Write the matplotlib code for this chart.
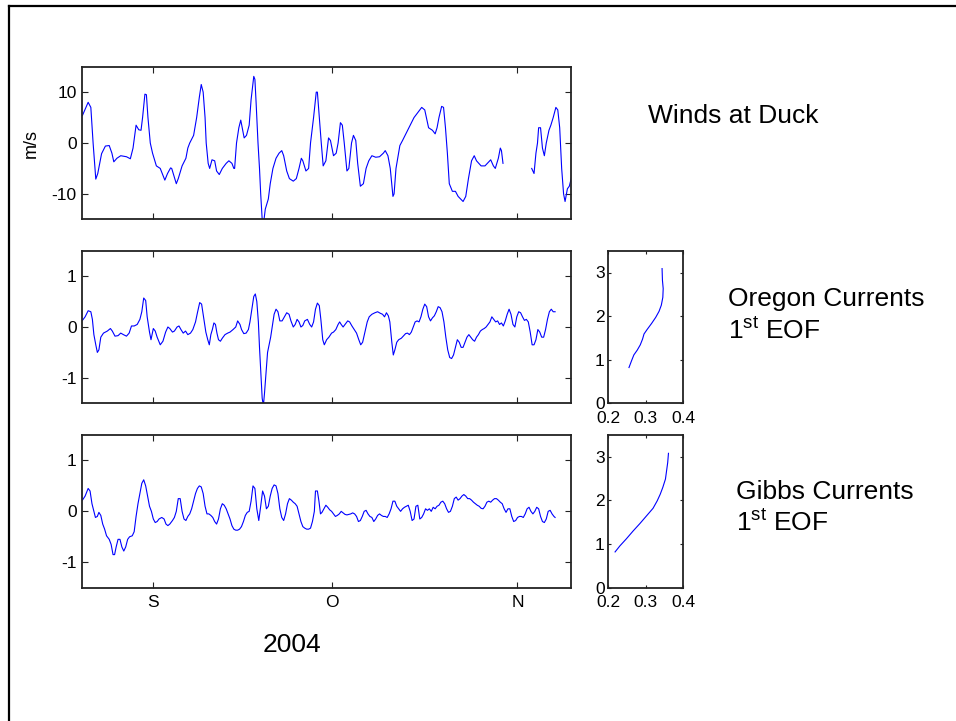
import numpy as np
import matplotlib
matplotlib.use("Agg")
import matplotlib.pyplot as plt
from matplotlib.lines import Line2D

plt.rcParams['font.family'] = ['Liberation Sans', 'DejaVu Sans']
plt.rcParams['mathtext.fontset'] = 'custom'
plt.rcParams['mathtext.rm'] = 'Liberation Sans'
plt.rcParams['axes.unicode_minus'] = False

# time axis: days since 1 Sep 2004
xlim_days = (-11.9, 69.9)
month_ticks = [0, 30, 61]
month_labels = ['S', 'O', 'N']

# wind at Duck (m/s); nan marks the data gap
wind = [
    (-11.88, 5.4), (-10.92, 8.0), (-10.47, 7.0), (-10.09, 0.0), (-9.64, -7.1), (-9.31, -6.0),
    (-8.67, -2.1), (-8.03, -0.6), (-7.39, -0.5), (-6.94, -2.0), (-6.62, -3.7), (-6.10, -3.0),
    (-5.46, -2.5), (-4.50, -2.7), (-3.85, -3.1), (-3.40, -1.0), (-2.89, 3.5), (-2.44, 2.6),
    (-2.06, 2.5), (-1.80, 5.0), (-1.41, 9.6), (-1.16, 9.5), (-0.90, 5.0), (-0.51, 0.0),
    (-0.13, -2.0), (0.51, -4.5), (1.16, -5.0), (1.93, -7.3), (2.38, -6.0), (2.89, -4.9),
    (3.08, -5.0), (3.85, -8.0), (4.18, -7.0), (4.82, -4.5), (5.46, -3.0), (5.78, -1.0),
    (6.10, 0.0), (6.75, 1.5), (7.26, 5.0), (7.71, 9.0), (8.03, 11.5), (8.35, 10.0),
    (8.67, 5.0), (8.86, 0.0), (9.19, -4.0), (9.44, -5.0), (9.83, -3.3), (10.28, -3.5),
    (10.60, -5.5), (11.05, -6.2), (11.56, -5.0), (12.21, -4.0), (12.66, -3.5), (13.17, -4.0),
    (13.49, -5.0), (13.62, -5.0), (13.94, 0.0), (14.33, 3.0), (14.65, 4.5), (14.90, 3.0),
    (15.22, 1.0), (15.61, 1.5), (16.06, 3.5), (16.38, 8.5), (16.83, 13.1), (17.02, 12.5),
    (17.22, 8.0), (17.54, 0.0), (17.79, -5.0), (17.99, -10.0), (18.24, -15.0), (18.50, -15.5),
    (18.76, -13.0), (19.27, -11.0), (19.59, -8.0), (20.04, -5.0), (20.56, -3.0), (21.07, -2.0),
    (21.52, -1.5), (21.84, -2.5), (22.35, -5.5), (22.80, -7.0), (23.45, -7.5), (23.96, -7.0),
    (24.41, -5.0), (24.80, -3.0), (25.05, -3.5), (25.57, -5.5), (26.02, -5.0), (26.34, 0.0),
    (26.85, 5.0), (27.30, 10.0), (27.49, 10.0), (27.75, 6.0), (28.14, 0.0), (28.46, -4.5),
    (28.91, -3.5), (29.36, 1.0), (29.68, 0.5), (30.19, -2.5), (30.64, -2.0), (30.96, 0.0),
    (31.35, 4.0), (31.67, 3.5), (31.99, 0.0), (32.44, -5.5), (32.76, -5.0), (33.21, 0.0),
    (33.53, 1.5), (33.92, 0.5), (34.24, -4.0), (34.69, -8.5), (35.20, -8.0), (35.65, -5.0),
    (36.10, -3.5), (36.62, -2.5), (37.26, -2.8), (37.90, -2.7), (38.54, -2.0), (38.86, -1.5),
    (39.31, -2.5), (39.70, -5.0), (40.15, -10.5), (40.34, -10.0), (40.66, -5.0), (41.31, -0.5),
    (41.76, 0.5), (42.40, 2.0), (43.04, 3.5), (43.68, 5.0), (44.32, 6.0), (44.97, 7.0),
    (45.48, 6.5), (46.12, 3.0), (46.77, 2.5), (47.22, 1.8), (47.54, 3.0), (47.86, 5.0),
    (48.31, 7.2), (48.63, 7.0), (48.95, 3.0), (49.27, -2.0), (49.59, -8.0), (50.11, -9.5),
    (50.62, -9.5), (51.07, -10.5), (51.90, -11.5), (52.35, -10.5), (52.80, -7.0), (53.32, -3.5),
    (53.77, -2.5), (54.15, -3.5), (54.92, -4.5), (55.57, -4.5), (56.21, -3.7), (56.53, -3.3),
    (56.98, -4.5), (57.30, -5.0), (57.81, -3.0), (58.14, -1.0), (58.33, -1.5), (58.59, -4.0),
    (np.nan, np.nan),
    (63.40, -5.0), (63.79, -6.0), (64.11, -2.0), (64.37, 0.0), (64.56, 3.0), (64.88, 3.0),
    (65.20, -1.0), (65.52, -2.5), (65.84, 0.0), (66.29, 2.5), (66.61, 3.5), (67.00, 5.0),
    (67.45, 7.0), (67.77, 6.5), (68.09, 3.0), (68.42, -5.0), (68.74, -10.0), (68.99, -11.5),
    (69.38, -9.0), (69.70, -8.5), (70.02, -7.0), (70.21, -6.0),
]

# Oregon currents, 1st EOF amplitude
oregon = [
    (-11.88, 0.13), (-11.43, 0.20), (-10.92, 0.32), (-10.47, 0.30), (-10.21, 0.15), (-9.96, -0.15),
    (-9.64, -0.35), (-9.38, -0.50), (-9.12, -0.45), (-8.80, -0.20), (-8.35, -0.12), (-7.71, -0.08),
    (-7.19, -0.03), (-6.87, -0.08), (-6.42, -0.18), (-5.91, -0.17), (-5.46, -0.12), (-5.01, -0.15),
    (-4.50, -0.18), (-4.05, -0.12), (-3.66, 0.02), (-3.21, 0.02), (-2.70, 0.05), (-2.25, 0.15),
    (-1.93, 0.30), (-1.61, 0.57), (-1.28, 0.52), (-1.03, 0.20), (-0.64, -0.10), (-0.39, -0.25),
    (0.00, -0.03), (0.32, -0.08), (0.64, -0.20), (1.16, -0.35), (1.61, -0.28), (2.06, -0.10),
    (2.44, 0.00), (2.76, -0.03), (3.21, -0.10), (3.53, -0.08), (3.98, 0.00), (4.30, 0.02),
    (4.63, -0.05), (5.01, -0.12), (5.40, -0.08), (5.78, -0.15), (6.23, -0.12), (6.62, -0.05),
    (7.07, 0.10), (7.39, 0.28), (7.77, 0.48), (8.09, 0.45), (8.42, 0.20), (8.80, -0.10),
    (9.12, -0.25), (9.38, -0.35), (9.64, -0.15), (9.89, -0.05), (10.15, 0.08), (10.41, 0.05),
    (10.66, -0.12), (10.92, -0.25), (11.24, -0.28), (11.56, -0.22), (12.01, -0.15), (12.46, -0.12),
    (12.85, -0.10), (13.36, -0.05), (13.81, 0.00), (14.13, 0.12), (14.52, 0.05), (14.78, -0.05),
    (15.16, -0.13), (15.55, -0.12), (15.93, -0.05), (16.19, 0.10), (16.51, 0.35), (16.83, 0.60),
    (17.09, 0.65), (17.34, 0.50), (17.60, 0.10), (17.79, -0.40), (18.05, -1.00), (18.24, -1.40),
    (18.44, -1.55), (18.63, -1.30), (18.89, -0.90), (19.14, -0.50), (19.40, -0.35), (19.66, -0.20),
    (19.91, 0.00), (20.24, 0.25), (20.56, 0.35), (20.88, 0.30), (21.20, 0.12), (21.58, 0.12),
    (21.97, 0.20), (22.35, 0.28), (22.74, 0.25), (23.06, 0.12), (23.45, 0.00), (23.77, 0.05),
    (24.09, 0.15), (24.41, 0.10), (24.73, 0.00), (25.05, 0.03), (25.37, 0.12), (25.82, 0.15),
    (26.21, 0.05), (26.53, 0.00), (26.85, 0.10), (27.17, 0.35), (27.49, 0.47), (27.81, 0.42),
    (28.07, 0.15), (28.39, -0.25), (28.65, -0.35), (29.04, -0.25), (29.42, -0.20), (29.87, -0.12),
    (30.19, -0.10), (30.58, -0.05), (30.96, 0.05), (31.22, 0.10), (31.48, 0.05), (31.80, 0.00),
    (32.12, 0.05), (32.57, 0.12), (32.89, 0.10), (33.28, 0.02), (33.66, -0.05), (34.05, -0.12),
    (34.43, -0.25), (34.75, -0.35), (35.07, -0.30), (35.46, -0.10), (35.84, 0.10), (36.17, 0.20),
    (36.62, 0.25), (37.13, 0.28), (37.58, 0.30), (38.03, 0.27), (38.41, 0.25), (38.74, 0.20),
    (39.06, 0.28), (39.38, 0.22), (39.63, 0.10), (39.96, -0.30), (40.21, -0.55), (40.47, -0.45),
    (40.79, -0.30), (41.11, -0.25), (41.56, -0.22), (41.88, -0.18), (42.27, -0.13), (42.59, -0.12),
    (42.91, -0.15), (43.23, -0.10), (43.55, 0.00), (43.87, 0.10), (44.20, 0.12), (44.52, 0.10),
    (44.84, 0.20), (45.16, 0.35), (45.48, 0.45), (45.80, 0.40), (46.12, 0.20), (46.44, 0.12),
    (46.77, 0.18), (47.09, 0.22), (47.41, 0.30), (47.73, 0.40), (48.05, 0.38), (48.37, 0.30),
    (48.69, 0.10), (49.01, -0.20), (49.33, -0.45), (49.66, -0.60), (49.98, -0.62), (50.30, -0.55),
    (50.62, -0.40), (50.94, -0.25), (51.26, -0.30), (51.58, -0.40), (51.90, -0.40), (52.23, -0.30),
    (52.55, -0.20), (52.87, -0.15), (53.19, -0.20), (53.51, -0.25), (53.83, -0.28), (54.15, -0.20),
    (54.47, -0.15), (54.80, -0.08), (55.12, -0.05), (55.44, -0.03), (55.76, 0.00), (56.08, 0.05),
    (56.40, 0.10), (56.72, 0.20), (57.04, 0.15), (57.36, 0.10), (57.69, 0.12), (58.01, 0.05),
    (58.33, 0.08), (58.65, 0.02), (58.97, 0.12), (59.29, 0.25), (59.61, 0.35), (59.93, 0.25),
    (60.26, 0.05), (60.58, 0.00), (60.90, 0.20), (61.22, 0.30), (61.54, 0.28), (61.86, 0.20),
    (62.18, 0.13), (62.50, 0.15), (62.83, 0.10), (63.15, -0.10), (63.47, -0.35), (63.79, -0.35),
    (64.11, -0.25), (64.43, -0.05), (64.75, -0.10), (65.07, -0.20), (65.40, -0.20), (65.72, -0.05),
    (66.04, 0.15), (66.36, 0.30), (66.68, 0.35), (67.00, 0.30), (67.32, 0.30),
]

# Gibbs currents, 1st EOF amplitude
gibbs = [
    (-11.88, 0.22), (-11.43, 0.30), (-10.92, 0.45), (-10.60, 0.40), (-10.28, 0.15), (-9.96, 0.00),
    (-9.70, -0.12), (-9.38, -0.10), (-9.12, -0.02), (-8.80, -0.08), (-8.48, -0.25), (-8.16, -0.35),
    (-7.84, -0.48), (-7.39, -0.55), (-7.07, -0.65), (-6.75, -0.85), (-6.49, -0.85), (-6.23, -0.70),
    (-5.91, -0.55), (-5.59, -0.55), (-5.27, -0.70), (-4.95, -0.78), (-4.63, -0.70), (-4.30, -0.55),
    (-3.98, -0.50), (-3.53, -0.48), (-3.21, -0.40), (-2.89, -0.10), (-2.57, 0.15), (-2.25, 0.35),
    (-1.93, 0.55), (-1.61, 0.62), (-1.28, 0.50), (-0.96, 0.30), (-0.64, 0.10), (-0.32, 0.00),
    (0.00, -0.15), (0.32, -0.22), (0.64, -0.20), (0.96, -0.15), (1.41, -0.12), (1.80, -0.15),
    (2.12, -0.25), (2.44, -0.28), (2.76, -0.25), (3.21, -0.18), (3.53, -0.12), (3.85, 0.00),
    (4.18, 0.25), (4.50, 0.25), (4.82, 0.00), (5.14, -0.15), (5.46, -0.18), (5.78, -0.10),
    (6.10, -0.05), (6.42, 0.05), (6.74, 0.20), (7.07, 0.35), (7.39, 0.45), (7.71, 0.50),
    (8.03, 0.48), (8.35, 0.35), (8.67, 0.10), (8.99, -0.05), (9.31, -0.05), (9.64, -0.08),
    (9.96, -0.12), (10.28, -0.20), (10.60, -0.25), (10.92, -0.15), (11.24, 0.05), (11.56, 0.15),
    (11.88, 0.12), (12.21, 0.05), (12.53, -0.05), (12.85, -0.15), (13.17, -0.28), (13.49, -0.35),
    (13.81, -0.37), (14.13, -0.37), (14.45, -0.35), (14.77, -0.30), (15.10, -0.20), (15.42, -0.08),
    (15.74, -0.02), (16.06, 0.00), (16.38, 0.20), (16.70, 0.50), (17.02, 0.45), (17.34, 0.05),
    (17.67, -0.18), (17.99, 0.10), (18.31, 0.40), (18.63, 0.30), (18.95, 0.05), (19.27, 0.10),
    (19.59, 0.30), (19.91, 0.45), (20.24, 0.52), (20.56, 0.50), (20.88, 0.35), (21.20, 0.05),
    (21.52, -0.12), (21.84, -0.18), (22.16, -0.05), (22.48, 0.15), (22.80, 0.25), (23.13, 0.22),
    (23.45, 0.18), (23.77, 0.15), (24.09, 0.10), (24.41, -0.05), (24.73, -0.20), (25.05, -0.30),
    (25.37, -0.33), (25.70, -0.35), (26.02, -0.35), (26.34, -0.33), (26.66, -0.20), (26.98, 0.00),
    (27.17, 0.40), (27.49, 0.40), (27.75, 0.20), (28.01, -0.05), (28.26, -0.02), (28.59, 0.05),
    (28.91, 0.12), (29.23, 0.08), (29.55, 0.03), (29.87, 0.00), (30.19, -0.05), (30.51, -0.10),
    (30.83, -0.08), (31.16, -0.05), (31.48, 0.00), (31.80, -0.03), (32.12, -0.06), (32.44, -0.07),
    (32.76, -0.06), (33.08, -0.05), (33.40, -0.03), (33.73, -0.05), (34.05, -0.10), (34.37, -0.20),
    (34.69, -0.18), (35.01, -0.10), (35.33, 0.00), (35.65, 0.02), (35.97, -0.05), (36.29, -0.10),
    (36.62, -0.12), (36.94, -0.20), (37.26, -0.15), (37.58, -0.08), (37.90, -0.05), (38.22, -0.08),
    (38.54, -0.10), (38.86, -0.10), (39.19, -0.12), (39.51, -0.05), (39.83, 0.05), (40.15, 0.20),
    (40.47, 0.20), (40.79, 0.10), (41.11, 0.05), (41.43, 0.00), (41.76, 0.05), (42.08, 0.08),
    (42.40, 0.10), (42.72, 0.12), (43.04, 0.00), (43.36, -0.18), (43.68, -0.15), (44.00, 0.10),
    (44.32, 0.12), (44.65, -0.15), (44.97, -0.12), (45.29, -0.05), (45.61, 0.05), (45.93, 0.02),
    (46.25, 0.05), (46.57, 0.00), (46.89, 0.08), (47.22, 0.05), (47.54, 0.10), (47.86, 0.12),
    (48.18, 0.18), (48.50, 0.20), (48.82, 0.15), (49.14, 0.05), (49.46, -0.02), (49.78, 0.00),
    (50.11, 0.10), (50.43, 0.25), (50.75, 0.28), (51.07, 0.22), (51.39, 0.25), (51.71, 0.30),
    (52.03, 0.33), (52.35, 0.30), (52.68, 0.25), (53.00, 0.25), (53.32, 0.22), (53.64, 0.18),
    (53.96, 0.15), (54.28, 0.12), (54.60, 0.10), (54.92, 0.06), (55.25, 0.05), (55.57, 0.10),
    (55.89, 0.18), (56.21, 0.20), (56.53, 0.18), (56.85, 0.22), (57.17, 0.25), (57.49, 0.25),
    (57.81, 0.22), (58.14, 0.18), (58.46, 0.15), (58.78, 0.05), (59.10, -0.02), (59.42, 0.05),
    (59.74, 0.05), (60.06, -0.10), (60.38, -0.20), (60.71, -0.18), (61.03, -0.12), (61.35, -0.10),
    (61.67, -0.10), (61.99, -0.12), (62.31, -0.05), (62.63, 0.05), (62.95, 0.08), (63.27, 0.00),
    (63.60, -0.05), (63.92, 0.00), (64.24, 0.08), (64.56, 0.05), (64.88, -0.10), (65.20, -0.20),
    (65.52, -0.22), (65.84, -0.15), (66.16, 0.00), (66.49, 0.02), (66.81, -0.05), (67.13, -0.10),
    (67.32, -0.12),
]

# 1st EOF vertical structure (amplitude, height)
oregon_eof = [
    (0.255, 0.82), (0.262, 0.98), (0.268, 1.11), (0.277, 1.22), (0.285, 1.34), (0.291, 1.47),
    (0.295, 1.59), (0.303, 1.69), (0.315, 1.83), (0.326, 1.97), (0.335, 2.11), (0.341, 2.25),
    (0.345, 2.43), (0.346, 2.63), (0.344, 2.82), (0.343, 3.09),
]
gibbs_eof = [
    (0.218, 0.82), (0.231, 0.96), (0.248, 1.12), (0.266, 1.30), (0.284, 1.47), (0.303, 1.66),
    (0.319, 1.82), (0.330, 1.99), (0.338, 2.14), (0.345, 2.30), (0.352, 2.49), (0.355, 2.68),
    (0.358, 2.87), (0.360, 3.08),
]

W, H = 956, 721
fig = plt.figure(figsize=(W / 100, H / 100), dpi=100)

def px_box(x0, y0, x1, y1):
    return [x0 / W, 1 - y1 / H, (x1 - x0) / W, (y1 - y0) / H]

def style(ax, tlen=4):
    for s in ax.spines.values():
        s.set_linewidth(1.3)
        s.set_color('#222222')
    ax.tick_params(direction='in', top=True, right=True, length=tlen, width=0.8,
                   labelsize=12.5, pad=4, colors='#222222', labelcolor='black')

line_kw = dict(color='#0000ff', lw=0.8)

ax1 = fig.add_axes(px_box(82.3, 66.7, 570.5, 219.3))
ax2 = fig.add_axes(px_box(82.3, 250.7, 570.5, 403.3))
ax3 = fig.add_axes(px_box(82.3, 435.0, 570.5, 587.7))
ax4 = fig.add_axes(px_box(608.3, 250.7, 683.5, 403.3))
ax5 = fig.add_axes(px_box(608.3, 435.0, 683.5, 587.7))

w = np.array(wind)
ax1.plot(w[:, 0], w[:, 1], **line_kw)
ax1.set_ylim(-15, 15)
ax1.set_yticks([-10, 0, 10])
ax1.set_ylabel('m/s', fontsize=13)
ax1.yaxis.set_label_coords(-0.087, 0.5)

o = np.array(oregon)
ax2.plot(o[:, 0], o[:, 1], **line_kw)
g = np.array(gibbs)
ax3.plot(g[:, 0], g[:, 1], **line_kw)

for ax in (ax1, ax2, ax3):
    ax.set_xlim(*xlim_days)
    ax.set_xticks(month_ticks)
    style(ax)
for ax in (ax2, ax3):
    ax.set_ylim(-1.5, 1.5)
    ax.set_yticks([-1, 0, 1])
ax1.set_xticklabels([])
ax2.set_xticklabels([])
ax3.set_xticklabels(month_labels)
ax3.tick_params(axis='x', pad=5)

for ax, prof in ((ax4, oregon_eof), (ax5, gibbs_eof)):
    p = np.array(prof)
    ax.plot(p[:, 0], p[:, 1], **line_kw)
    ax.set_xlim(0.2, 0.4)
    ax.set_ylim(0, 3.5)
    ax.set_xticks([0.2, 0.3, 0.4])
    ax.set_xticklabels(['0.2', '0.3', '0.4'])
    ax.set_yticks([0, 1, 2, 3])
    style(ax, tlen=2.5)
    ax.tick_params(axis='x', pad=5.5)
    ax.tick_params(axis='y', pad=2.5)

def ftext(x, y, s, **kw):
    fig.text(x / W, 1 - y / H, s, fontsize=19, ha='left', va='baseline', **kw)

ftext(648, 123, 'Winds at Duck')
ftext(728, 306, 'Oregon Currents')
ftext(728, 339, r'1$^{\mathrm{st}}$ EOF')
ftext(736, 499, 'Gibbs Currents')
ftext(736, 531, r'1$^{\mathrm{st}}$ EOF')
ftext(263, 652, '2004')

# outer frame (runs off the right and bottom edges)
fx0, fy0 = 8.5 / W, 1 - 5.5 / H
fig.add_artist(Line2D([fx0, fx0], [-0.1, fy0], transform=fig.transFigure, color='black', lw=1.6))
fig.add_artist(Line2D([fx0, 1.1], [fy0, fy0], transform=fig.transFigure, color='black', lw=1.6))

fig.savefig('out.png', dpi=100)
